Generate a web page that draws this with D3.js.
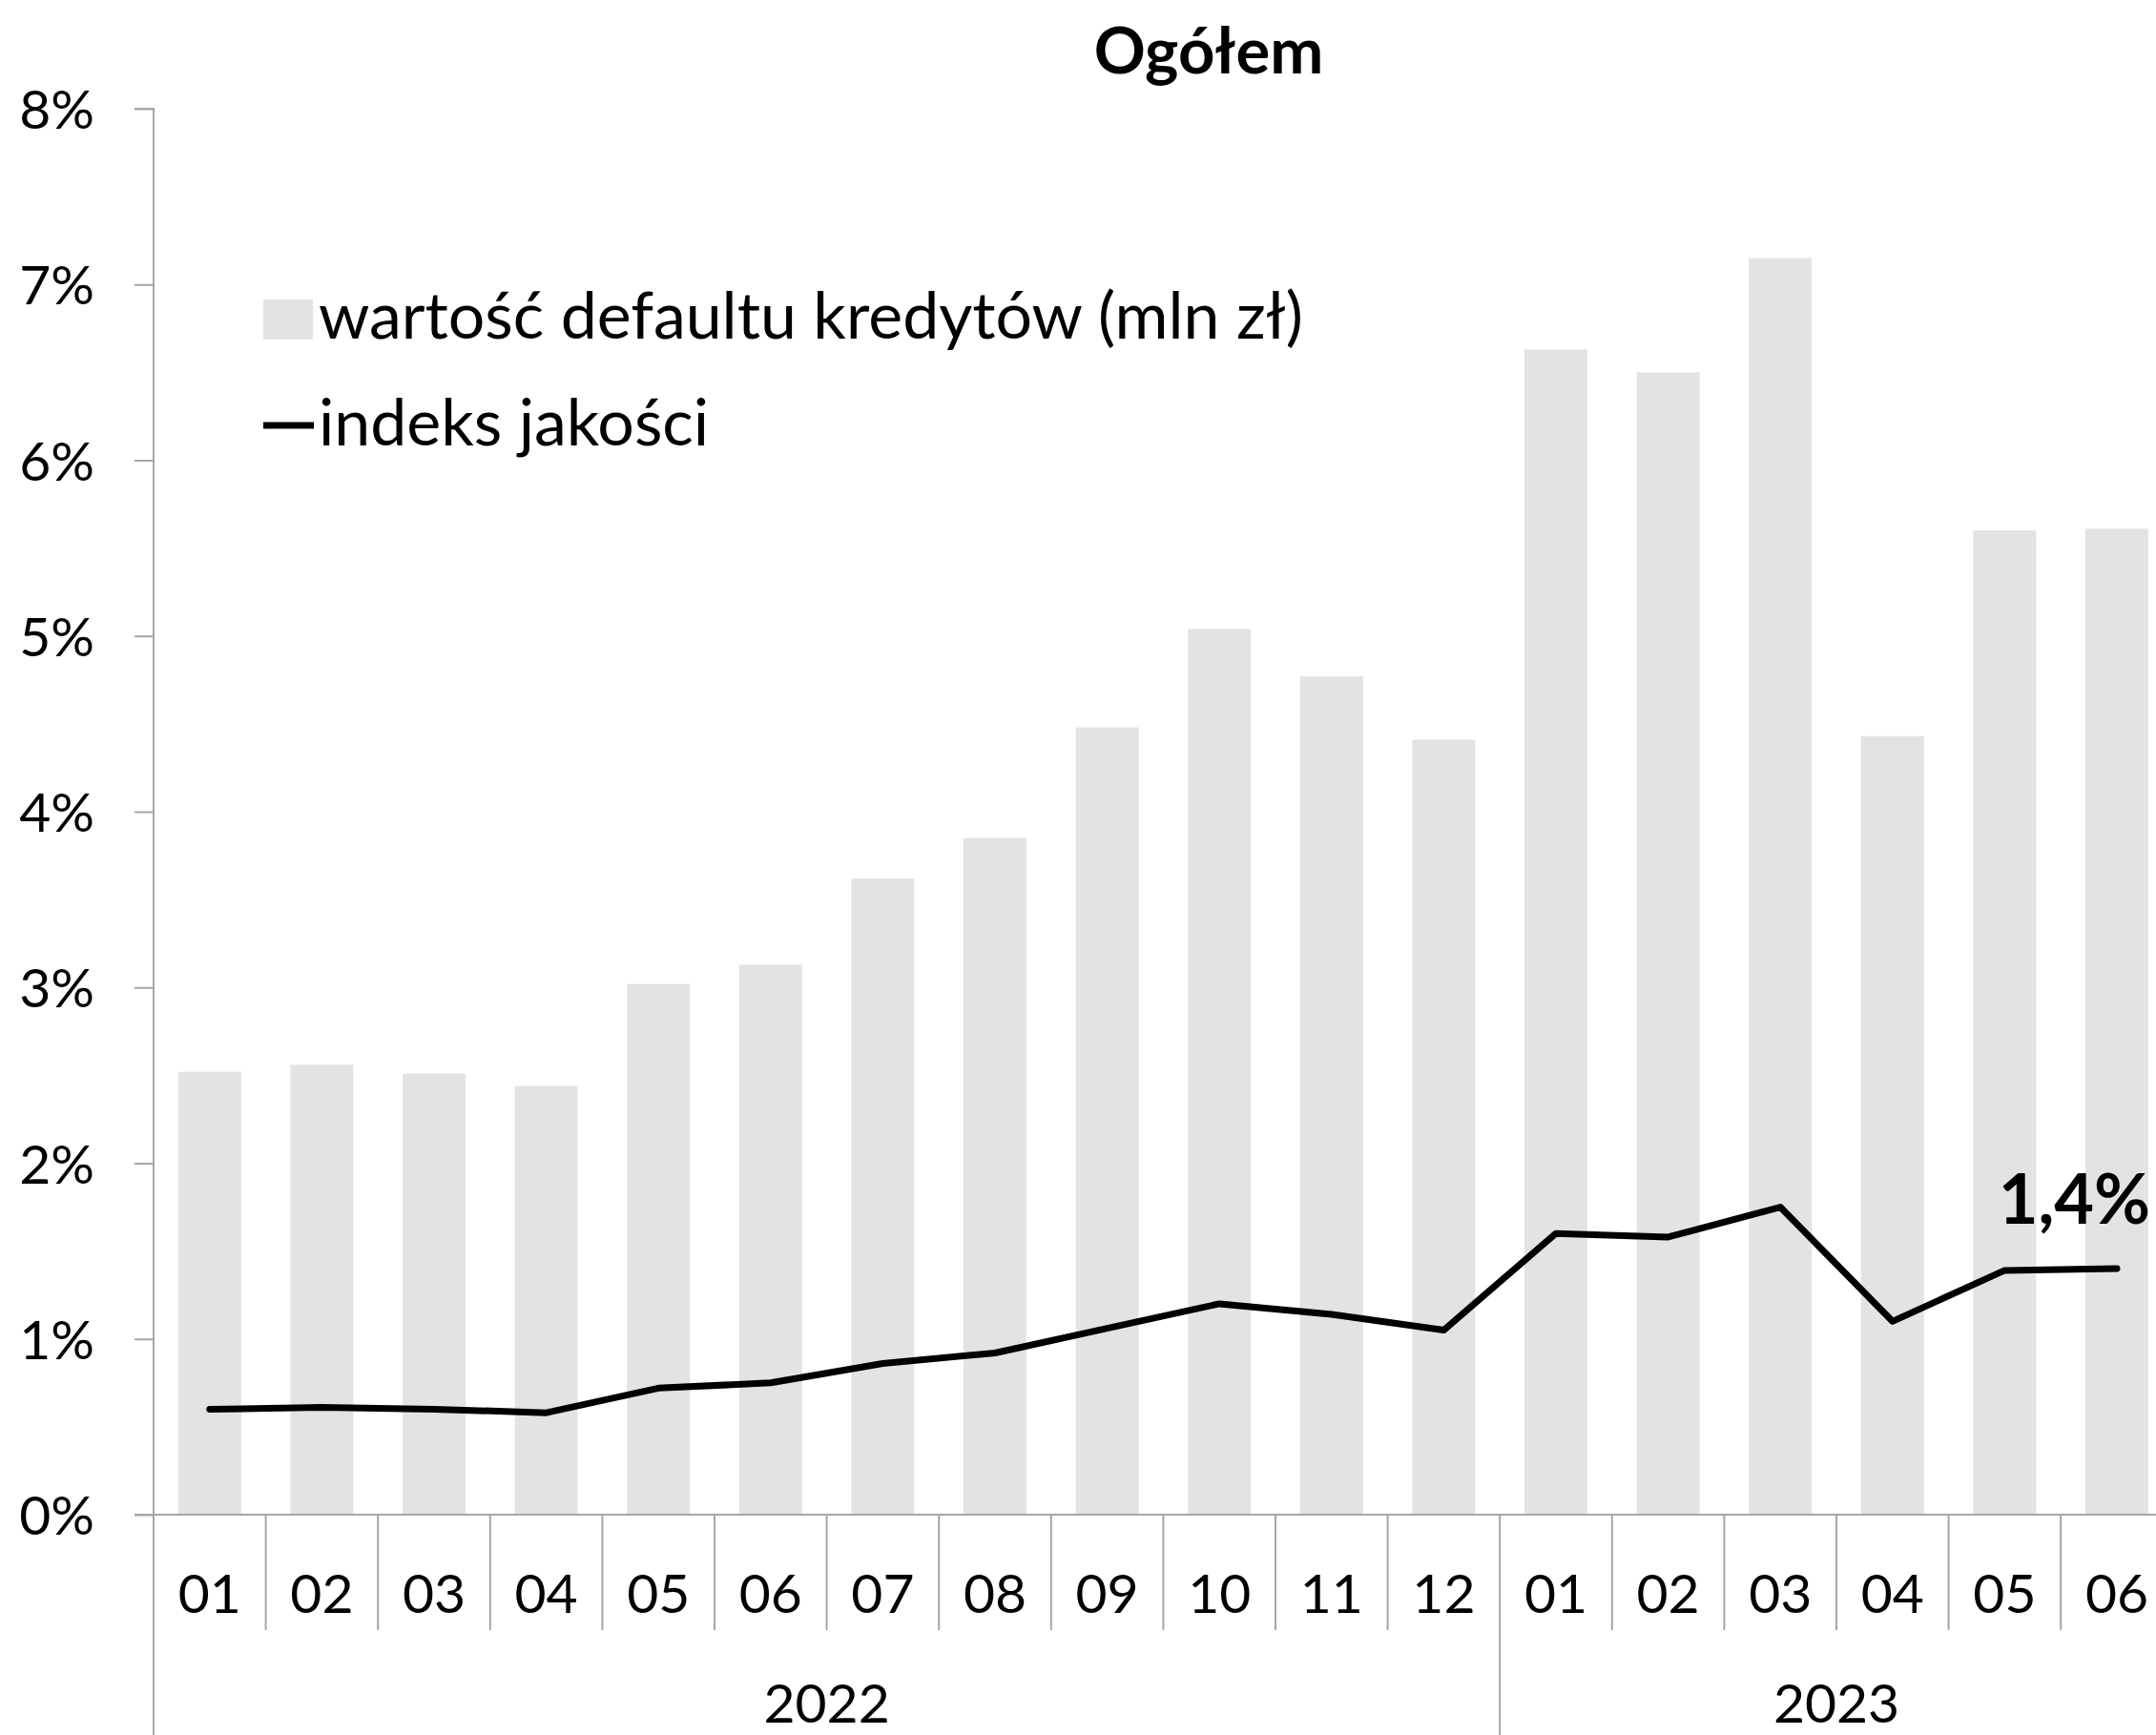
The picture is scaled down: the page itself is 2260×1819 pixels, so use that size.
<!DOCTYPE html>
<html>
<head>
<meta charset="utf-8">
<script src="https://cdn.jsdelivr.net/npm/d3@7"></script>
<style>
  body { margin: 0; background: #fff; }
  text { font-family: Lato, "Open Sans", sans-serif; fill: #000; }
</style>
</head>
<body>
<div id="chart"></div>
<script>
/*------------------------------
 DATA
 ----------------------------*/
const MONTHS = ["01","02","03","04","05","06","07","08","09","10","11","12",
                "01","02","03","04","05","06"];
const YEARS = [{label:"2022", from:0, to:12}, {label:"2023", from:12, to:18}];
// wartość defaultu kredytów (bars, read on the % axis)
const DEFAULT_VALUES = [2.52, 2.56, 2.51, 2.44, 3.02, 3.13, 3.62, 3.85, 4.48, 5.04, 4.77, 4.41,
                        6.63, 6.50, 7.15, 4.43, 5.60, 5.61];
// indeks jakości (line, %)
const QUALITY_INDEX = [0.60, 0.61, 0.60, 0.58, 0.72, 0.75, 0.86, 0.92, 1.06, 1.20, 1.14, 1.05,
                       1.60, 1.58, 1.75, 1.10, 1.39, 1.40];
const Y_TICKS = [0,1,2,3,4,5,6,7,8];
const LAST_LABEL = "1,4%";

/*------------------------------
 CONSTANTS
 ----------------------------*/
const SVG_WIDTH = 2260;
const SVG_HEIGHT = 1819;
const AXIS_COLOR = "#a6a6a6";
const BAR_COLOR = "#e3e3e3";
const X0 = 161, BAND = 117.6;
const Y0 = 1588, Y8 = 114;

const svg = d3.select("#chart").append("svg")
    .attr("width", SVG_WIDTH).attr("height", SVG_HEIGHT);

const idx = d3.range(MONTHS.length);
const xScale = d3.scaleBand().domain(idx).range([X0, X0 + BAND * MONTHS.length]).paddingInner(0).paddingOuter(0);
const yScale = d3.scaleLinear().domain([0, 8]).range([Y0, Y8]);
const barW = 66;

// bars
svg.append("g").selectAll("rect")
    .data(DEFAULT_VALUES)
    .enter().append("rect")
    .attr("x", (d, i) => xScale(i) + BAND / 2 - barW / 2)
    .attr("y", d => yScale(d))
    .attr("width", barW)
    .attr("height", d => Y0 - yScale(d))
    .attr("fill", BAR_COLOR);

// y axis
const yAxis = d3.axisLeft(yScale).tickValues(Y_TICKS).tickSize(20).tickPadding(42)
    .tickFormat(d => d + "%");
const gy = svg.append("g").attr("transform", `translate(${X0},0)`).call(yAxis);
gy.select(".domain").attr("stroke", AXIS_COLOR).attr("stroke-width", 2).attr("d", `M-20,${Y8}H0V${Y0}`);
gy.selectAll(".tick line").attr("stroke", AXIS_COLOR).attr("stroke-width", 2);
gy.selectAll(".tick text").attr("font-size", 57).attr("font-family", "Lato").attr("dy", "0.36em").attr("fill", "#000");

// x axis line
svg.append("line")
    .attr("x1", X0 - 20).attr("x2", SVG_WIDTH + 40)
    .attr("y1", Y0).attr("y2", Y0)
    .attr("stroke", AXIS_COLOR).attr("stroke-width", 2);

// category separators
const bounds = d3.range(MONTHS.length + 1);
svg.append("g").selectAll("line")
    .data(bounds)
    .enter().append("line")
    .attr("x1", i => X0 + i * BAND).attr("x2", i => X0 + i * BAND)
    .attr("y1", Y0)
    .attr("y2", i => (YEARS.some(y => y.from === i) || i === MONTHS.length) ? SVG_HEIGHT : 1709)
    .attr("stroke", AXIS_COLOR).attr("stroke-width", 2);

// month labels
svg.append("g").selectAll("text")
    .data(MONTHS)
    .enter().append("text")
    .attr("x", (d, i) => xScale(i) + BAND / 2)
    .attr("y", 1691)
    .attr("text-anchor", "middle")
    .attr("font-size", 57)
    .text(d => d);

// year labels
svg.append("g").selectAll("text")
    .data(YEARS)
    .enter().append("text")
    .attr("x", d => X0 + (d.from + d.to) / 2 * BAND)
    .attr("y", 1806)
    .attr("text-anchor", "middle")
    .attr("font-size", 57)
    .text(d => d.label);

// line
const line = d3.line()
    .x((d, i) => xScale(i) + BAND / 2)
    .y(d => yScale(d));
svg.append("path")
    .datum(QUALITY_INDEX)
    .attr("d", line)
    .attr("fill", "none")
    .attr("stroke", "#000")
    .attr("stroke-width", 7)
    .attr("stroke-linejoin", "round")
    .attr("stroke-linecap", "round");

// last value label
const last = QUALITY_INDEX.length - 1;
svg.append("text")
    .attr("x", xScale(last) + BAND / 2 + 35)
    .attr("y", yScale(QUALITY_INDEX[last]) - 47)
    .attr("text-anchor", "end")
    .attr("font-size", 72)
    .attr("font-weight", "bold")
    .text(LAST_LABEL);

// title
svg.append("text")
    .attr("x", 1267).attr("y", 77)
    .attr("text-anchor", "middle")
    .attr("font-size", 67)
    .attr("font-weight", "bold")
    .text("Ogółem");

// legend
const legend = svg.append("g");
legend.append("rect").attr("x", 276).attr("y", 314).attr("width", 52).attr("height", 42).attr("fill", BAR_COLOR);
legend.append("text").attr("x", 334).attr("y", 355).attr("font-size", 68).text("wartość defaultu kredytów (mln zł)");
legend.append("line").attr("x1", 276).attr("x2", 329).attr("y1", 446).attr("y2", 446)
    .attr("stroke", "#000").attr("stroke-width", 7);
legend.append("text").attr("x", 334).attr("y", 467).attr("font-size", 68).text("indeks jakości");
</script>
</body>
</html>
